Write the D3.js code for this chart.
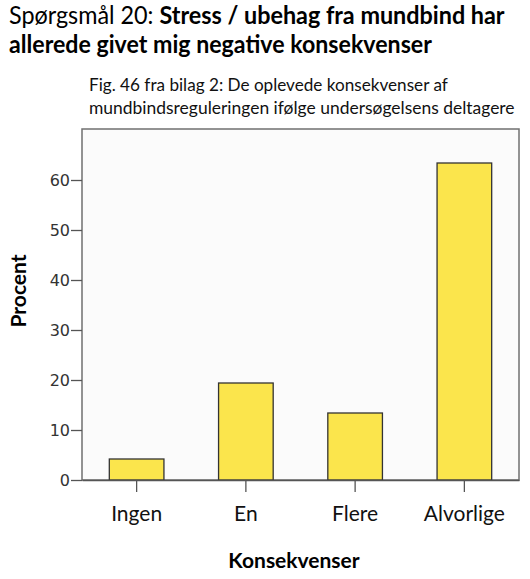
<!DOCTYPE html>
<html>
<head>
<meta charset="utf-8">
<script src="https://cdn.jsdelivr.net/npm/d3@7"></script>
<style>
  body { margin: 0; background: #fff; }
  svg { display: block; }
</style>
</head>
<body>
<div id="chart"></div>
<script>
// data
const categories = ['Ingen', 'En', 'Flere', 'Alvorlige'];
const percent = [4.2, 19.4, 13.4, 63.4];
const yTicks = [0, 10, 20, 30, 40, 50, 60];

const W = 530, H = 579;
const margin = { top: 129, right: 11, bottom: 99, left: 82 };
const plotW = W - margin.left - margin.right;
const plotH = H - margin.top - margin.bottom;

const svg = d3.select('#chart').append('svg')
  .attr('width', W)
  .attr('height', H);

// Calibri-ish look: Lato squeezed horizontally to the measured width
function squeezedText(x, y, size, target) {
  const g = svg.append('g');
  const t = g.append('text')
    .attr('x', 0).attr('y', 0)
    .attr('font-family', 'Lato, "Open Sans", sans-serif')
    .attr('font-size', size)
    .attr('fill', '#000');
  t.fit = () => {
    const w = t.node().getComputedTextLength();
    const k = w > 0 ? target / w : 1;
    g.attr('transform', `translate(${x},${y}) scale(${k},1)`);
    return t;
  };
  return t;
}

// ---- titles ----
const t1 = squeezedText(9, 24, 25.5, 496);
t1.append('tspan').text('Spørgsmål 20: ');
t1.append('tspan').attr('font-weight', 'bold').text('Stress / ubehag fra mundbind har');
t1.fit();

const t2 = squeezedText(9, 53, 25.5, 423);
t2.attr('font-weight', 'bold').text('allerede givet mig negative konsekvenser');
t2.fit();

const c1 = squeezedText(89, 91, 17, 359);
c1.attr('fill', '#111').text('Fig. 46 fra bilag 2: De oplevede konsekvenser af');
c1.fit();
const c2 = squeezedText(89, 114, 17, 426);
c2.attr('fill', '#111').text('mundbindsreguleringen ifølge undersøgelsens deltagere');
c2.fit();

// ---- plot ----
const g = svg.append('g')
  .attr('transform', `translate(${margin.left},${margin.top})`);

const x = d3.scaleBand()
  .domain(categories)
  .range([0, plotW])
  .paddingInner(0.5)
  .paddingOuter(0.25);

const y = d3.scaleLinear()
  .domain([0, 70.2])
  .range([plotH, 0]);

g.append('rect')
  .attr('x', 0).attr('y', 0)
  .attr('width', plotW).attr('height', plotH)
  .attr('fill', '#fbfbfb')
  .attr('stroke', '#707070')
  .attr('stroke-width', 1.5);

g.selectAll('.bar')
  .data(percent)
  .join('rect')
  .attr('class', 'bar')
  .attr('x', (d, i) => x(categories[i]))
  .attr('y', d => y(d))
  .attr('width', x.bandwidth())
  .attr('height', d => plotH - y(d))
  .attr('fill', '#fbe54c')
  .attr('stroke', '#333')
  .attr('stroke-width', 1.3);

// y axis
const yAxis = g.append('g')
  .call(d3.axisLeft(y).tickValues(yTicks).tickSize(11).tickPadding(1));
yAxis.select('.domain').remove();
yAxis.selectAll('line').attr('stroke', '#555').attr('stroke-width', 1.3);
yAxis.selectAll('text')
  .attr('font-family', '"DejaVu Sans", Verdana, sans-serif')
  .attr('font-size', 16)
  .attr('fill', '#333');

// x axis
const xAxis = g.append('g')
  .attr('transform', `translate(0,${plotH})`)
  .call(d3.axisBottom(x).tickSize(12).tickSizeOuter(0).tickPadding(14));
xAxis.select('.domain').attr('stroke', '#555').attr('stroke-width', 1.5);
xAxis.selectAll('line').attr('stroke', '#555').attr('stroke-width', 1.3);
xAxis.selectAll('text')
  .attr('font-family', 'Lato, "Open Sans", sans-serif')
  .attr('font-size', 21)
  .attr('fill', '#111');

// axis titles
svg.append('text')
  .attr('transform', `translate(26,291) rotate(-90)`)
  .attr('text-anchor', 'middle')
  .attr('font-family', 'Lato, "Open Sans", sans-serif')
  .attr('font-weight', 'bold')
  .attr('font-size', 21)
  .attr('fill', '#000')
  .text('Procent');

svg.append('text')
  .attr('x', 294).attr('y', 568)
  .attr('text-anchor', 'middle')
  .attr('font-family', 'Lato, "Open Sans", sans-serif')
  .attr('font-weight', 'bold')
  .attr('font-size', 21)
  .attr('fill', '#000')
  .text('Konsekvenser');
</script>
</body>
</html>
